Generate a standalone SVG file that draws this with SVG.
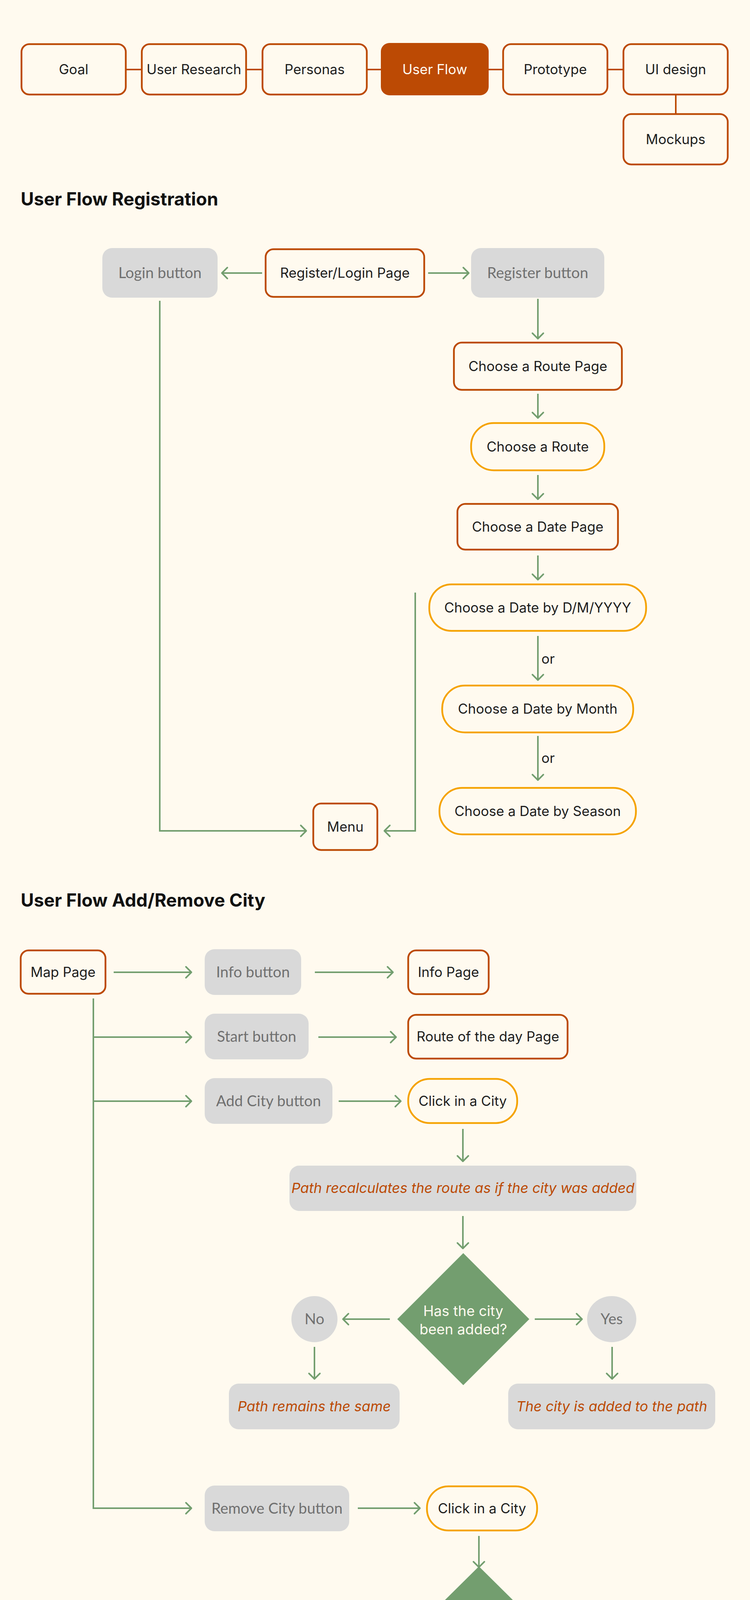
<svg xmlns="http://www.w3.org/2000/svg" width="1920" height="4588" viewBox="0 0 1920 4588">
<style>
.bg{fill:#FFFAEF}
.ob{fill:#FFFAEF;stroke:#BC4A04;stroke-width:4.5}
.of{fill:#BC4A04}
.yb{fill:#FFFAEF;stroke:#F5A302;stroke-width:4.5}
.gb{fill:#D9D9D9}
.dm{fill:#739E6F}
.t{font-family:Inter,"Open Sans","Liberation Sans",sans-serif;font-size:35px;fill:#1E1E1E;text-anchor:middle}
.tw{fill:#FFFAEF}
.td{font-size:36.5px}
.tg{font-family:Lato,"Liberation Sans",sans-serif;font-size:38.5px;fill:#707070;text-anchor:middle}
.ti{font-family:Inter,"Open Sans","Liberation Sans",sans-serif;font-size:36px;font-style:italic;fill:#BC4A04;text-anchor:middle}
.h{font-family:Inter,"Open Sans","Liberation Sans",sans-serif;font-size:46px;font-weight:700;fill:#111}
.nav{stroke:#BC4A04;stroke-width:4;fill:none}
.c{stroke:#739E6F;stroke-width:4;fill:none}
.ca{stroke:#739E6F;stroke-width:4;fill:none;marker-end:url(#arr)}
</style>
<defs>
<marker id="arr" markerUnits="userSpaceOnUse" markerWidth="40" markerHeight="40" viewBox="-20 -20 40 40" refX="0" refY="0" orient="auto">
<path d="M-14,-14 L0,0 L-14,14" fill="none" stroke="#739E6F" stroke-width="4" stroke-linecap="round" stroke-linejoin="round"/>
</marker>
</defs>
<rect class="bg" x="0" y="0" width="1920" height="4588"/>

<!-- navigation connectors -->
<g id="nav-connectors">
<line class="nav" x1="324" y1="178" x2="361" y2="178"/>
<line class="nav" x1="632" y1="178" x2="670" y2="178"/>
<line class="nav" x1="940" y1="178" x2="978" y2="178"/>
<line class="nav" x1="1249" y1="178" x2="1286" y2="178"/>
<line class="nav" x1="1557" y1="178" x2="1594" y2="178"/>
<line class="nav" x1="1730" y1="244" x2="1730" y2="290"/>
</g>
<g id="nav-goal"><rect class="ob" x="55" y="113" width="267" height="129" rx="20"/><text class="t" x="188.5" y="190">Goal</text></g>
<g id="nav-research"><rect class="ob" x="363" y="113" width="267" height="129" rx="20"/><text class="t" x="496.5" y="190">User Research</text></g>
<g id="nav-personas"><rect class="ob" x="672" y="113" width="267" height="129" rx="20"/><text class="t" x="805.5" y="190">Personas</text></g>
<g id="nav-userflow"><rect class="of" x="975" y="110" width="276" height="134" rx="22"/><text class="t tw" x="1113" y="190">User Flow</text></g>
<g id="nav-prototype"><rect class="ob" x="1288" y="113" width="267" height="129" rx="20"/><text class="t" x="1421.5" y="190">Prototype</text></g>
<g id="nav-uidesign"><rect class="ob" x="1596" y="113" width="267" height="129" rx="20"/><text class="t" x="1729.5" y="190">UI design</text></g>
<g id="nav-mockups"><rect class="ob" x="1596" y="292" width="267" height="129" rx="20"/><text class="t" x="1729.5" y="369">Mockups</text></g>

<text class="h" x="53" y="526">User Flow Registration</text>

<!-- registration connectors -->
<g id="reg-connectors">
<line class="ca" x1="671" y1="699" x2="568" y2="699"/>
<line class="ca" x1="1096" y1="699" x2="1200" y2="699"/>
<line class="ca" x1="1377" y1="765" x2="1377" y2="867"/>
<line class="ca" x1="1377" y1="1008" x2="1377" y2="1070"/>
<line class="ca" x1="1377" y1="1216" x2="1377" y2="1278"/>
<line class="ca" x1="1377" y1="1422" x2="1377" y2="1484"/>
<line class="ca" x1="1377" y1="1628" x2="1377" y2="1741"/>
<line class="ca" x1="1377" y1="1884" x2="1377" y2="1997"/>
<polyline class="ca" points="409,770 409,2127 784,2127"/>
<polyline class="ca" points="1063,1517 1063,2127 984,2127"/>
<text class="t" x="1386" y="1699" style="text-anchor:start">or</text>
<text class="t" x="1386" y="1953" style="text-anchor:start">or</text>
</g>

<g id="login-button"><rect class="gb" x="262" y="635" width="295" height="127" rx="25"/><text class="tg" x="409.5" y="712">Login button</text></g>
<g id="register-login-page"><rect class="ob" x="680" y="638" width="406" height="122" rx="20"/><text class="t" x="883" y="711">Register/Login Page</text></g>
<g id="register-button"><rect class="gb" x="1206" y="635" width="341" height="127" rx="25"/><text class="tg" x="1376.5" y="712">Register button</text></g>
<g id="choose-route-page"><rect class="ob" x="1162" y="877" width="430" height="121" rx="20"/><text class="t" x="1377" y="950">Choose a Route Page</text></g>
<g id="choose-route"><rect class="yb" x="1206" y="1083" width="341" height="121" rx="58"/><text class="t" x="1376.5" y="1156">Choose a Route</text></g>
<g id="choose-date-page"><rect class="ob" x="1171" y="1290" width="411" height="117" rx="20"/><text class="t" x="1376.5" y="1361">Choose a Date Page</text></g>
<g id="date-dmy"><rect class="yb" x="1099" y="1496" width="555" height="119" rx="57"/><text class="t" x="1376.5" y="1568">Choose a Date by D/M/YYYY</text></g>
<g id="date-month"><rect class="yb" x="1132" y="1755" width="489" height="120" rx="58"/><text class="t" x="1376.5" y="1827">Choose a Date by Month</text></g>
<g id="date-season"><rect class="yb" x="1125" y="2017" width="503" height="119" rx="58"/><text class="t" x="1376.5" y="2089">Choose a Date by Season</text></g>
<g id="menu"><rect class="ob" x="802" y="2057" width="164" height="119" rx="20"/><text class="t" x="884" y="2129">Menu</text></g>

<text class="h" x="53" y="2321">User Flow Add/Remove City</text>

<!-- add/remove connectors -->
<g id="city-connectors">
<line class="ca" x1="291" y1="2489" x2="490" y2="2489"/>
<line class="ca" x1="806" y1="2489" x2="1006" y2="2489"/>
<line class="c" x1="239" y1="2556" x2="239" y2="3860"/>
<line class="ca" x1="239" y1="2655" x2="490" y2="2655"/>
<line class="ca" x1="815" y1="2655" x2="1014" y2="2655"/>
<line class="ca" x1="239" y1="2819" x2="490" y2="2819"/>
<line class="ca" x1="867" y1="2819" x2="1026" y2="2819"/>
<line class="ca" x1="1185" y1="2890" x2="1185" y2="2973"/>
<line class="ca" x1="1185" y1="3113" x2="1185" y2="3196"/>
<line class="ca" x1="998" y1="3377" x2="878" y2="3377"/>
<line class="ca" x1="1369" y1="3377" x2="1490" y2="3377"/>
<line class="ca" x1="805" y1="3448" x2="805" y2="3530"/>
<line class="ca" x1="1567" y1="3448" x2="1567" y2="3530"/>
<polyline class="ca" points="239,3858 239,3861 490,3861"/>
<line class="ca" x1="916" y1="3861" x2="1075" y2="3861"/>
<line class="ca" x1="1226" y1="3932" x2="1226" y2="4012"/>
<line class="ca" x1="1023" y1="4196" x2="900" y2="4196"/>
<line class="ca" x1="1431" y1="4196" x2="1553" y2="4196"/>
<line class="ca" x1="829" y1="4267" x2="829" y2="4350"/>
<line class="ca" x1="1628" y1="4267" x2="1628" y2="4350"/>
</g>

<g id="map-page"><rect class="ob" x="53" y="2433" width="217" height="111" rx="20"/><text class="t" x="161.5" y="2501">Map Page</text></g>
<g id="info-button"><rect class="gb" x="524" y="2430" width="247" height="117" rx="25"/><text class="tg" x="647.5" y="2502">Info button</text></g>
<g id="info-page"><rect class="ob" x="1045" y="2433" width="206" height="112" rx="20"/><text class="t" x="1148" y="2501">Info Page</text></g>
<g id="start-button"><rect class="gb" x="524" y="2595" width="266" height="117" rx="25"/><text class="tg" x="657" y="2667">Start button</text></g>
<g id="route-of-day"><rect class="ob" x="1045" y="2598" width="408" height="112" rx="20"/><text class="t" x="1249" y="2666">Route of the day Page</text></g>
<g id="add-city-button"><rect class="gb" x="524" y="2760" width="327" height="117" rx="25"/><text class="tg" x="687.5" y="2832">Add City button</text></g>
<g id="click-city-add"><rect class="yb" x="1045" y="2762" width="279" height="113" rx="55"/><text class="t" x="1184.5" y="2831">Click in a City</text></g>
<g id="path-recalc"><rect class="gb" x="741" y="2984" width="888" height="116" rx="25"/><text class="ti" x="1185" y="3054">Path recalculates the route as if the city was added</text></g>
<g id="decision-added"><polygon class="dm" points="1186,3208 1355,3377 1186,3546 1017,3377"/><text class="t tw td" x="1186" y="3369">Has the city</text><text class="t tw td" x="1186" y="3416">been added?</text></g>
<g id="no-added"><ellipse class="gb" cx="805" cy="3377" rx="59" ry="59"/><text class="tg" x="805" y="3390">No</text></g>
<g id="yes-added"><ellipse class="gb" cx="1566" cy="3377" rx="63" ry="59"/><text class="tg" x="1566" y="3390">Yes</text></g>
<g id="path-same-1"><rect class="gb" x="586" y="3542" width="437" height="117" rx="25"/><text class="ti" x="804.5" y="3613">Path remains the same</text></g>
<g id="city-added"><rect class="gb" x="1301" y="3542" width="530" height="117" rx="25"/><text class="ti" x="1566" y="3613">The city is added to the path</text></g>

<g id="remove-city-button"><rect class="gb" x="524" y="3803" width="370" height="117" rx="25"/><text class="tg" x="709" y="3875">Remove City button</text></g>
<g id="click-city-remove"><rect class="yb" x="1093" y="3805" width="282" height="113" rx="55"/><text class="t" x="1234" y="3874">Click in a City</text></g>
<g id="decision-removed"><polygon class="dm" points="1226,4010 1415,4197 1226,4385 1037,4197"/><text class="t tw td" x="1226" y="4188">Has the city</text><text class="t tw td" x="1226" y="4235">been removed?</text></g>
<g id="no-removed"><ellipse class="gb" cx="829" cy="4196" rx="59" ry="59"/><text class="tg" x="829" y="4209">No</text></g>
<g id="yes-removed"><ellipse class="gb" cx="1628" cy="4196" rx="63" ry="59"/><text class="tg" x="1628" y="4209">Yes</text></g>
<g id="path-same-2"><rect class="gb" x="626" y="4360" width="436" height="118" rx="25"/><text class="ti" x="844" y="4431">Path remains the same</text></g>
<g id="city-removed"><rect class="gb" x="1341" y="4360" width="530" height="118" rx="25"/><text class="ti" x="1606" y="4431">The city is removed to the path</text></g>
</svg>
